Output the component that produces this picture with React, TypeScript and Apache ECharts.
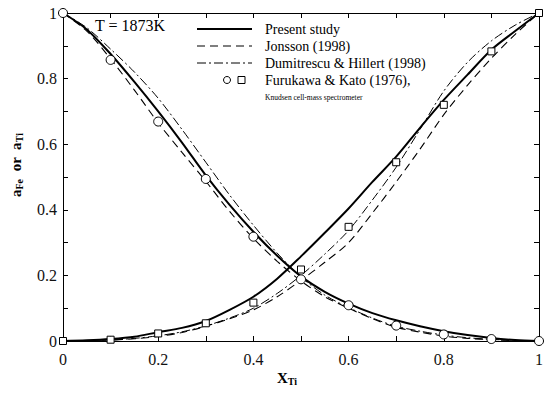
import React, { useEffect, useRef } from "react";
import * as echarts from "echarts";

const xGrid = [0, 0.05, 0.1, 0.15, 0.2, 0.25, 0.3, 0.35, 0.4, 0.45, 0.5, 0.55, 0.6, 0.65, 0.7, 0.75, 0.8, 0.85, 0.9, 0.95, 1];

// Present study (solid)
const presentFe = [1, 0.95, 0.875, 0.79, 0.7, 0.605, 0.505, 0.415, 0.333, 0.26, 0.197, 0.15, 0.114, 0.085, 0.063, 0.045, 0.03, 0.018, 0.009, 0.003, 0];
const presentTi = [0, 0.002, 0.006, 0.013, 0.027, 0.04, 0.061, 0.095, 0.135, 0.19, 0.258, 0.33, 0.404, 0.485, 0.562, 0.65, 0.735, 0.812, 0.888, 0.945, 1];
// Jonsson (1998) (dashed)
const jonssonFe = [1, 0.945, 0.86, 0.765, 0.665, 0.575, 0.487, 0.395, 0.313, 0.243, 0.183, 0.135, 0.1, 0.068, 0.042, 0.027, 0.015, 0.008, 0.004, 0.001, 0];
const jonssonTi = [0, 0.001, 0.003, 0.007, 0.014, 0.026, 0.045, 0.068, 0.095, 0.135, 0.185, 0.24, 0.3, 0.39, 0.485, 0.585, 0.69, 0.78, 0.862, 0.935, 1];
// Dumitrescu & Hillert (1998) (dash-dot)
const dumitFe = [1, 0.955, 0.89, 0.82, 0.74, 0.645, 0.545, 0.445, 0.353, 0.268, 0.195, 0.14, 0.102, 0.07, 0.045, 0.03, 0.018, 0.01, 0.005, 0.002, 0];
const dumitTi = [0, 0.001, 0.003, 0.008, 0.016, 0.028, 0.046, 0.07, 0.1, 0.145, 0.2, 0.265, 0.337, 0.43, 0.53, 0.645, 0.762, 0.85, 0.915, 0.963, 1];

// Furukawa & Kato (1976)
const expX = [0, 0.1, 0.2, 0.3, 0.4, 0.5, 0.6, 0.7, 0.8, 0.9, 1];
const expFe = [1, 0.857, 0.669, 0.494, 0.318, 0.188, 0.109, 0.047, 0.02, 0.006, 0];
const expTi = [0, 0.004, 0.023, 0.054, 0.117, 0.218, 0.348, 0.545, 0.72, 0.883, 1];

const xTicks = [0, 0.2, 0.4, 0.6, 0.8, 1];

const FONT = "Liberation Serif, Times New Roman, serif";

function pairs(xs: number[], ys: number[]) {
  return xs.map((x, i) => [x, ys[i]]);
}

export default function App() {
  const ref = useRef<HTMLDivElement>(null);
  useEffect(() => {
    if (!ref.current) return;
    const chart = echarts.init(ref.current, undefined, { renderer: "svg" });
    const axisCommon = {
      type: "value" as const,
      min: 0,
      max: 1,
      interval: 0.2,
      axisLine: { show: true, onZero: false, lineStyle: { color: "#000", width: 1 } },
      axisTick: { show: true, inside: true, length: 5, lineStyle: { color: "#000" } },
      minorTick: { show: true, splitNumber: 2, length: 5, lineStyle: { color: "#000" } },
      splitLine: { show: false },
    };
    const lineSeries = (name: string, ys: number[], type: any, width: number) => ({
      name,
      type: "line",
      data: pairs(xGrid, ys),
      smooth: 0.3,
      showSymbol: false,
      symbol: "none",
      lineStyle: { color: "#000", width, type },
      z: 2,
    });
    const legX1 = 197, legX2 = 252, textX = 265;
    const txt = (x: number, y: number, text: string, size: number) => ({
      type: "text",
      x,
      y,
      style: { text, fontSize: size, fontFamily: FONT, fill: "#000", verticalAlign: "middle" },
    });
    chart.setOption({
      animation: false,
      backgroundColor: "#fff",
      textStyle: { fontFamily: FONT },
      grid: { left: 63, right: 11, top: 13, bottom: 52 },
      xAxis: [
        {
          ...axisCommon,
          position: "bottom",
          axisLabel: {
            show: true,
            margin: 10,
            fontSize: 16,
            color: "#111",
            fontFamily: FONT,
            formatter: (v: number) => (xTicks.some((t) => Math.abs(t - v) < 1e-9) ? String(Math.round(v * 10) / 10) : ""),
          },
        },
        { ...axisCommon, position: "top", axisLabel: { show: false } },
      ],
      yAxis: [
        {
          ...axisCommon,
          position: "left",
          axisLabel: { show: true, margin: 6, fontSize: 16, color: "#111", fontFamily: FONT },
        },
        { ...axisCommon, position: "right", axisLabel: { show: false } },
      ],
      series: [
        lineSeries("Present study Fe", presentFe, "solid", 2),
        lineSeries("Present study Ti", presentTi, "solid", 2),
        lineSeries("Jonsson Fe", jonssonFe, [8, 5], 1.1),
        lineSeries("Jonsson Ti", jonssonTi, [8, 5], 1.1),
        lineSeries("Dumitrescu Fe", dumitFe, [9, 3, 2, 3], 1),
        lineSeries("Dumitrescu Ti", dumitTi, [9, 3, 2, 3], 1),
        {
          name: "Exp Fe",
          type: "scatter",
          data: pairs(expX, expFe),
          symbol: "circle",
          symbolSize: 9,
          clip: false,
          itemStyle: { color: "#fff", borderColor: "#000", borderWidth: 1, opacity: 1 },
          z: 5,
        },
        {
          name: "Exp Ti",
          type: "scatter",
          data: pairs(expX, expTi),
          symbol: "rect",
          symbolSize: 7,
          clip: false,
          itemStyle: { color: "#fff", borderColor: "#000", borderWidth: 1, opacity: 1 },
          z: 5,
        },
      ],
      graphic: [
        txt(95, 25, "T = 1873K", 16),
        { type: "line", shape: { x1: legX1, y1: 29, x2: legX2, y2: 29 }, style: { stroke: "#000", lineWidth: 2 } },
        { type: "line", shape: { x1: legX1, y1: 46, x2: legX2, y2: 46 }, style: { stroke: "#000", lineWidth: 1.1, lineDash: [8, 5] } },
        { type: "line", shape: { x1: legX1, y1: 63, x2: legX2, y2: 63 }, style: { stroke: "#000", lineWidth: 1, lineDash: [9, 3, 2, 3] } },
        { type: "circle", shape: { cx: 227, cy: 80, r: 3.5 }, style: { fill: "#fff", stroke: "#000", lineWidth: 1 } },
        { type: "rect", shape: { x: 238, y: 76.5, width: 7, height: 7 }, style: { fill: "#fff", stroke: "#000", lineWidth: 1 } },
        txt(textX, 29, "Present study", 14),
        txt(textX, 46, "Jonsson (1998)", 14),
        txt(textX, 63, "Dumitrescu & Hillert (1998)", 14),
        txt(textX, 80, "Furukawa & Kato (1976),", 14),
        txt(textX, 97, "Knudsen cell-mass spectrometer", 7.5),
        {
          type: "text",
          x: 287,
          y: 378,
          style: {
            text: "{b|X}{s|Ti}",
            align: "center",
            verticalAlign: "middle",
            fill: "#000",
            rich: {
              b: { fontSize: 15, fontWeight: "bold", fontFamily: FONT, fill: "#000" },
              s: { fontSize: 10, fontWeight: "bold", fontFamily: FONT, fill: "#000", padding: [7, 0, 0, 0] },
            },
          },
        },
        {
          type: "text",
          x: 16,
          y: 165,
          rotation: Math.PI / 2,
          style: {
            text: "{b|a}{s|Fe}{b|  or  a}{s|Ti}",
            align: "center",
            verticalAlign: "middle",
            fill: "#000",
            rich: {
              b: { fontSize: 15, fontWeight: "bold", fontFamily: FONT, fill: "#000" },
              s: { fontSize: 10, fontWeight: "bold", fontFamily: FONT, fill: "#000", padding: [7, 0, 0, 0] },
            },
          },
        },
      ],
    });
    return () => chart.dispose();
  }, []);
  return <div ref={ref} style={{ position: "absolute", left: 0, top: 0, width: 550, height: 393 }} />;
}
